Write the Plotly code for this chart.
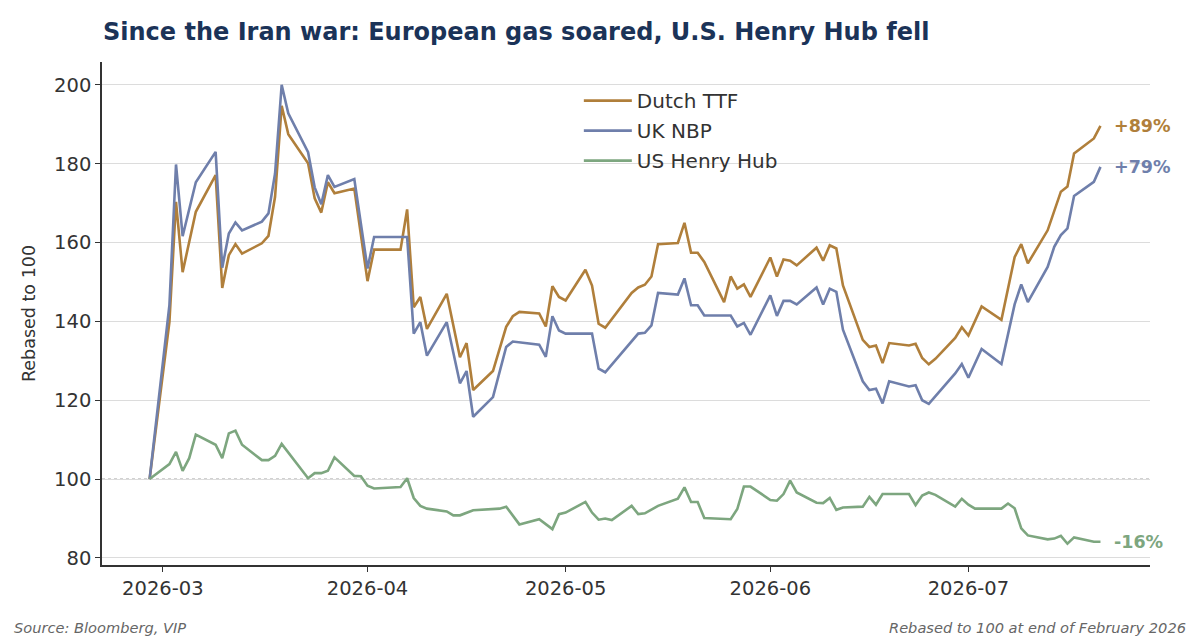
import plotly.graph_objects as go

# values (rebased to 100 at 2026-02-27)
ttf_dates = [
    "2026-02-27", "2026-03-02", "2026-03-03", "2026-03-04", "2026-03-06", "2026-03-09",
    "2026-03-10", "2026-03-11", "2026-03-12", "2026-03-13", "2026-03-16", "2026-03-17",
    "2026-03-18", "2026-03-19", "2026-03-20", "2026-03-23", "2026-03-24", "2026-03-25",
    "2026-03-26", "2026-03-27", "2026-03-30", "2026-04-01", "2026-04-02", "2026-04-06",
    "2026-04-07", "2026-04-08", "2026-04-09", "2026-04-10", "2026-04-13", "2026-04-15",
    "2026-04-16", "2026-04-17", "2026-04-20", "2026-04-22", "2026-04-23", "2026-04-24",
    "2026-04-27", "2026-04-28", "2026-04-29", "2026-04-30", "2026-05-01", "2026-05-04",
    "2026-05-05", "2026-05-06", "2026-05-07", "2026-05-11", "2026-05-12", "2026-05-13",
    "2026-05-14", "2026-05-15", "2026-05-18", "2026-05-19", "2026-05-20", "2026-05-21",
    "2026-05-22", "2026-05-25", "2026-05-26", "2026-05-27", "2026-05-28", "2026-05-29",
    "2026-06-01", "2026-06-02", "2026-06-03", "2026-06-04", "2026-06-05", "2026-06-08",
    "2026-06-09", "2026-06-10", "2026-06-11", "2026-06-12", "2026-06-15", "2026-06-16",
    "2026-06-17", "2026-06-18", "2026-06-19", "2026-06-22", "2026-06-23", "2026-06-24",
    "2026-06-25", "2026-06-26", "2026-06-29", "2026-06-30", "2026-07-01", "2026-07-03",
    "2026-07-06", "2026-07-08", "2026-07-09", "2026-07-10", "2026-07-13", "2026-07-14",
    "2026-07-15", "2026-07-16", "2026-07-17", "2026-07-20", "2026-07-21",
]
ttf = [
    100, 139.8, 170.3, 152.5, 167.8, 177.1,
    148.5, 156.8, 159.6, 157.2, 159.8, 161.7,
    171.6, 194.7, 187.5, 180.1, 171.2, 167.6,
    175.3, 172.5, 173.7, 150.2, 158.2, 158.2,
    168.4, 143.6, 146.2, 138.1, 147.0, 130.9,
    134.5, 122.6, 127.4, 138.6, 141.3, 142.4,
    142.0, 138.7, 148.9, 146.2, 145.3, 153.1,
    149.1, 139.4, 138.4, 147.2, 148.6, 149.3,
    151.4, 159.6, 159.9, 165.0, 157.4, 157.4,
    155.1, 144.9, 151.4, 148.3, 149.4, 146.2,
    156.2, 151.4, 155.7, 155.4, 154.2, 158.7,
    155.4, 159.3, 158.5, 149.1, 135.3, 133.5,
    133.9, 129.4, 134.5, 133.9, 134.3, 130.7,
    129.1, 130.5, 135.8, 138.5, 136.4, 143.8,
    140.4, 156.3, 159.6, 154.7, 163.1, 168.2,
    172.9, 174.2, 182.6, 186.4, 189.6,
]

nbp_dates = [
    "2026-02-27", "2026-03-02", "2026-03-03", "2026-03-04", "2026-03-06", "2026-03-09",
    "2026-03-10", "2026-03-11", "2026-03-12", "2026-03-13", "2026-03-16", "2026-03-17",
    "2026-03-18", "2026-03-19", "2026-03-20", "2026-03-23", "2026-03-24", "2026-03-25",
    "2026-03-26", "2026-03-27", "2026-03-30", "2026-04-01", "2026-04-02", "2026-04-07",
    "2026-04-08", "2026-04-09", "2026-04-10", "2026-04-13", "2026-04-15", "2026-04-16",
    "2026-04-17", "2026-04-20", "2026-04-22", "2026-04-23", "2026-04-27", "2026-04-28",
    "2026-04-29", "2026-04-30", "2026-05-01", "2026-05-05", "2026-05-06", "2026-05-07",
    "2026-05-12", "2026-05-13", "2026-05-14", "2026-05-15", "2026-05-18", "2026-05-19",
    "2026-05-20", "2026-05-21", "2026-05-22", "2026-05-26", "2026-05-27", "2026-05-28",
    "2026-05-29", "2026-06-01", "2026-06-02", "2026-06-03", "2026-06-04", "2026-06-05",
    "2026-06-08", "2026-06-09", "2026-06-10", "2026-06-11", "2026-06-12", "2026-06-15",
    "2026-06-16", "2026-06-17", "2026-06-18", "2026-06-19", "2026-06-22", "2026-06-23",
    "2026-06-24", "2026-06-25", "2026-06-29", "2026-06-30", "2026-07-01", "2026-07-03",
    "2026-07-06", "2026-07-08", "2026-07-09", "2026-07-10", "2026-07-13", "2026-07-14",
    "2026-07-15", "2026-07-16", "2026-07-17", "2026-07-20", "2026-07-21",
]
nbp = [
    100, 144.1, 179.8, 161.6, 175.3, 183.0,
    153.6, 162.3, 165.1, 163.1, 165.3, 167.4,
    177.5, 200.0, 192.8, 182.9, 174.0, 169.7,
    177.1, 174.1, 176.1, 153.4, 161.4, 161.4,
    136.9, 139.8, 131.3, 139.8, 124.3, 127.4,
    115.8, 120.8, 133.5, 134.9, 134.1, 131.0,
    141.3, 137.7, 136.9, 136.9, 128.0, 127.1,
    136.9, 137.1, 139.0, 147.2, 146.8, 150.9,
    144.1, 144.1, 141.5, 141.5, 138.7, 139.6,
    136.6, 146.6, 141.4, 145.2, 145.2, 144.3,
    148.6, 144.3, 148.3, 147.5, 137.9, 124.8,
    122.6, 122.9, 119.2, 124.8, 123.5, 123.8,
    120.0, 119.1, 126.8, 129.2, 125.7, 133.0,
    129.2, 144.3, 149.4, 144.9, 153.8, 158.9,
    161.9, 163.6, 171.8, 175.4, 179.2,
]

hh_dates = [
    "2026-02-27", "2026-03-02", "2026-03-03", "2026-03-04", "2026-03-05", "2026-03-06",
    "2026-03-09", "2026-03-10", "2026-03-11", "2026-03-12", "2026-03-13", "2026-03-16",
    "2026-03-17", "2026-03-18", "2026-03-19", "2026-03-23", "2026-03-24", "2026-03-25",
    "2026-03-26", "2026-03-27", "2026-03-30", "2026-03-31", "2026-04-01", "2026-04-02",
    "2026-04-06", "2026-04-07", "2026-04-08", "2026-04-09", "2026-04-10", "2026-04-13",
    "2026-04-14", "2026-04-15", "2026-04-17", "2026-04-20", "2026-04-21", "2026-04-22",
    "2026-04-24", "2026-04-27", "2026-04-29", "2026-04-30", "2026-05-01", "2026-05-04",
    "2026-05-05", "2026-05-06", "2026-05-07", "2026-05-08", "2026-05-11", "2026-05-12",
    "2026-05-13", "2026-05-15", "2026-05-18", "2026-05-19", "2026-05-20", "2026-05-21",
    "2026-05-22", "2026-05-26", "2026-05-27", "2026-05-28", "2026-05-29", "2026-06-01",
    "2026-06-02", "2026-06-03", "2026-06-04", "2026-06-05", "2026-06-08", "2026-06-09",
    "2026-06-10", "2026-06-11", "2026-06-12", "2026-06-15", "2026-06-16", "2026-06-17",
    "2026-06-18", "2026-06-22", "2026-06-23", "2026-06-24", "2026-06-25", "2026-06-26",
    "2026-06-29", "2026-06-30", "2026-07-01", "2026-07-02", "2026-07-06", "2026-07-07",
    "2026-07-08", "2026-07-09", "2026-07-10", "2026-07-13", "2026-07-14", "2026-07-15",
    "2026-07-16", "2026-07-17", "2026-07-20", "2026-07-21",
]
hh = [
    100, 103.8, 106.9, 102.1, 105.3, 111.3,
    108.7, 105.3, 111.6, 112.3, 108.7, 104.8,
    104.8, 105.9, 108.9, 100.2, 101.5, 101.5,
    102.1, 105.5, 100.8, 100.7, 98.3, 97.6,
    98.0, 100.2, 95.2, 93.2, 92.5, 91.8,
    90.8, 90.8, 92.1, 92.3, 92.5, 93.0,
    88.5, 89.8, 87.3, 91.1, 91.5, 94.2,
    91.5, 89.7, 90.0, 89.6, 93.2, 91.1,
    91.3, 93.2, 95.0, 97.9, 94.2, 94.2,
    90.1, 89.8, 92.4, 98.1, 98.1, 94.7,
    94.5, 96.2, 99.6, 96.6, 94.0, 93.9,
    95.2, 92.2, 92.8, 93.0, 95.5, 93.5,
    96.2, 96.2, 93.4, 95.8, 96.6, 96.0,
    93.0, 95.0, 93.5, 92.5, 92.5, 93.8,
    92.6, 87.5, 85.7, 84.7, 84.9, 85.6,
    83.6, 85.2, 84.1, 84.1,
]

series_names = ["Dutch TTF", "UK NBP", "US Henry Hub"]
end_labels = ["+89%", "+79%", "-16%"]
colors = ["#B07F3B", "#6F7FAB", "#7DA67F"]

FONT = "DejaVu Sans"
TXT = "#333333"

fig = go.Figure()

all_dates = [ttf_dates, nbp_dates, hh_dates]
all_vals = [ttf, nbp, hh]

for i in range(3):
    fig.add_trace(go.Scatter(
        x=all_dates[i], y=all_vals[i], mode="lines",
        name=series_names[i], legendgroup=series_names[i],
        line=dict(color=colors[i], width=2.6),
    ))
    # end-of-line label
    fig.add_annotation(
        x=all_dates[i][-1], y=all_vals[i][-1], text="<b>%s</b>" % end_labels[i],
        showarrow=False, xanchor="left", yanchor="middle", xshift=12,
        font=dict(family=FONT, size=17.5, color=colors[i]),
    )

# dotted reference line at 100
fig.add_hline(y=100, line=dict(color="#9a9a9a", width=1, dash="dot"), layer="below")

fig.add_annotation(
    text="Source: Bloomberg, VIP", xref="paper", yref="paper",
    x=-0.086, y=-0.125, xanchor="left", yanchor="middle", showarrow=False,
    font=dict(family=FONT, size=14.6, color="#666666", style="italic"),
)
fig.add_annotation(
    text="Rebased to 100 at end of February 2026", xref="paper", yref="paper",
    x=1.036, y=-0.125, xanchor="right", yanchor="middle", showarrow=False,
    font=dict(family=FONT, size=14.6, color="#666666", style="italic"),
)

# the page puts the figure 8px in from the top-left corner
fig.update_layout(
    width=1192, height=632,
    margin=dict(l=94, r=50, t=54, b=75),
    paper_bgcolor="white", plot_bgcolor="white",
    font=dict(family=FONT, color=TXT),
    title=dict(
        text="<b>Since the Iran war: European gas soared, U.S. Henry Hub fell</b>",
        x=0.0797, xanchor="left", y=0.962, yanchor="middle",
        font=dict(family=FONT, size=24, color="#1B3358"),
    ),
    legend=dict(
        x=0.455, y=0.962, xanchor="left", yanchor="top",
        bgcolor="rgba(0,0,0,0)", font=dict(family=FONT, size=20, color=TXT),
        traceorder="grouped", tracegroupgap=1, itemwidth=48,
    ),
    xaxis=dict(
        type="date", range=["2026-02-19 19:00", "2026-07-28 12:00"],
        tick0="2026-03-01", dtick="M1", tickformat="%Y-%m",
        showgrid=False, showline=True, linecolor="#333333", linewidth=1.5,
        ticks="outside", ticklen=5, tickcolor="#333333", tickwidth=1.2,
        tickfont=dict(family=FONT, size=19.5, color=TXT),
        zeroline=False,
    ),
    yaxis=dict(
        range=[78.2, 205.8], tickvals=[80, 100, 120, 140, 160, 180, 200],
        showgrid=True, gridcolor="#DCDCDC", gridwidth=1,
        showline=True, linecolor="#333333", linewidth=1.5,
        ticks="outside", ticklen=5, tickcolor="#333333", tickwidth=1.2,
        tickfont=dict(family=FONT, size=19.5, color=TXT),
        title=dict(text="Rebased to 100", font=dict(family=FONT, size=17.5, color=TXT), standoff=14),
        zeroline=False,
    ),
)

fig.write_html("out.html")
